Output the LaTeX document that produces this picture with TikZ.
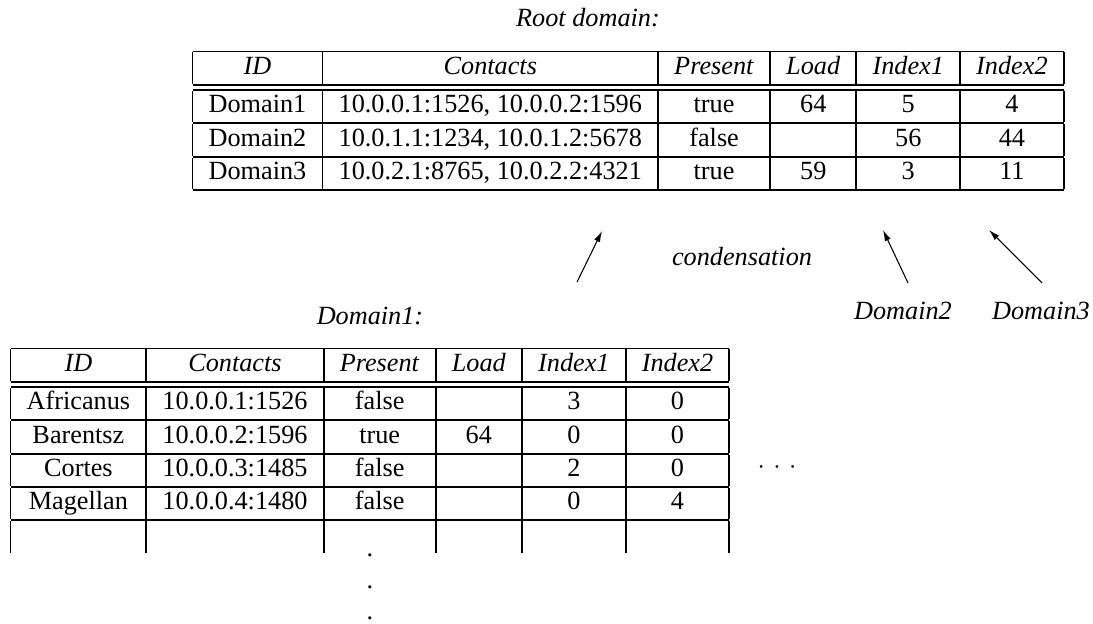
\documentclass[tikz,border=0pt]{standalone}
\usepackage{fontspec}
\setmainfont{Liberation Serif}
\usetikzlibrary{arrows.meta}
\setlength{\arrayrulewidth}{0.7pt}
\setlength{\tabcolsep}{6.15pt}

\begin{document}
\begin{tikzpicture}[x=0.381pt,y=-0.381pt,
	lbl/.style={font=\itshape,anchor=base},
	tbl/.style={anchor=north west,inner sep=0pt},
	arr/.style={-{Latex[length=4.2pt,width=2.4pt]},line width=0.4pt}]
	\useasboundingbox (0,0) rectangle (1093,624);
	\node[lbl] (roottitle) at (588,27) {Root domain:};
	\node[tbl] (root) at (192,50) {\begin{tabular}{|c|c|c|c|c|c|}\hline
		\textit{ID} & \textit{Contacts} & \textit{Present} & \textit{Load} & \textit{Index1} & \textit{Index2}\\ \hline\hline
		Domain1 & 10.0.0.1:1526, 10.0.0.2:1596 & true & 64 & 5 & 4\\ \hline
		Domain2 & 10.0.1.1:1234, 10.0.1.2:5678 & false & & 56 & 44\\ \hline
		Domain3 & 10.0.2.1:8765, 10.0.2.2:4321 & true & 59 & 3 & 11\\ \hline
	\end{tabular}};
	\path (577,282) coordinate (t1) (602,231) coordinate (h1)
	(908,283) coordinate (t2) (883,230) coordinate (h2)
	(1042,283) coordinate (t3) (989,230) coordinate (h3);
	\draw[arr] (t1) -- (h1);
	\draw[arr] (t2) -- (h2);
	\draw[arr] (t3) -- (h3);
	\node[lbl] (cond) at (742,266) {condensation};
	\node[lbl] (d2) at (903,320) {Domain2};
	\node[lbl] (d3) at (1041,320) {Domain3};
	\node[lbl] (domtitle) at (370,325) {Domain1:};
	\node[tbl] (dom) at (10,347) {\begin{tabular}{|c|c|c|c|c|c|}\hline
		\textit{ID} & \textit{Contacts} & \textit{Present} & \textit{Load} & \textit{Index1} & \textit{Index2}\\ \hline\hline
		Africanus & 10.0.0.1:1526 & false & & 3 & 0\\ \hline
		Barentsz & 10.0.0.2:1596 & true & 64 & 0 & 0\\ \hline
		Cortes & 10.0.0.3:1485 & false & & 2 & 0\\ \hline
		Magellan & 10.0.0.4:1480 & false & & 0 & 4\\ \hline
		& & & & & \\
	\end{tabular}};
	\node[anchor=base] (hdots) at (777,474) {${\cdot}\kern3.2pt{\cdot}\kern3.2pt{\cdot}$};
	\node[anchor=base] (vd1) at (370,556) {.};
	\node[anchor=base] (vd2) at (370,588) {.};
	\node[anchor=base] (vd3) at (370,619) {.};
\end{tikzpicture}
\end{document}
